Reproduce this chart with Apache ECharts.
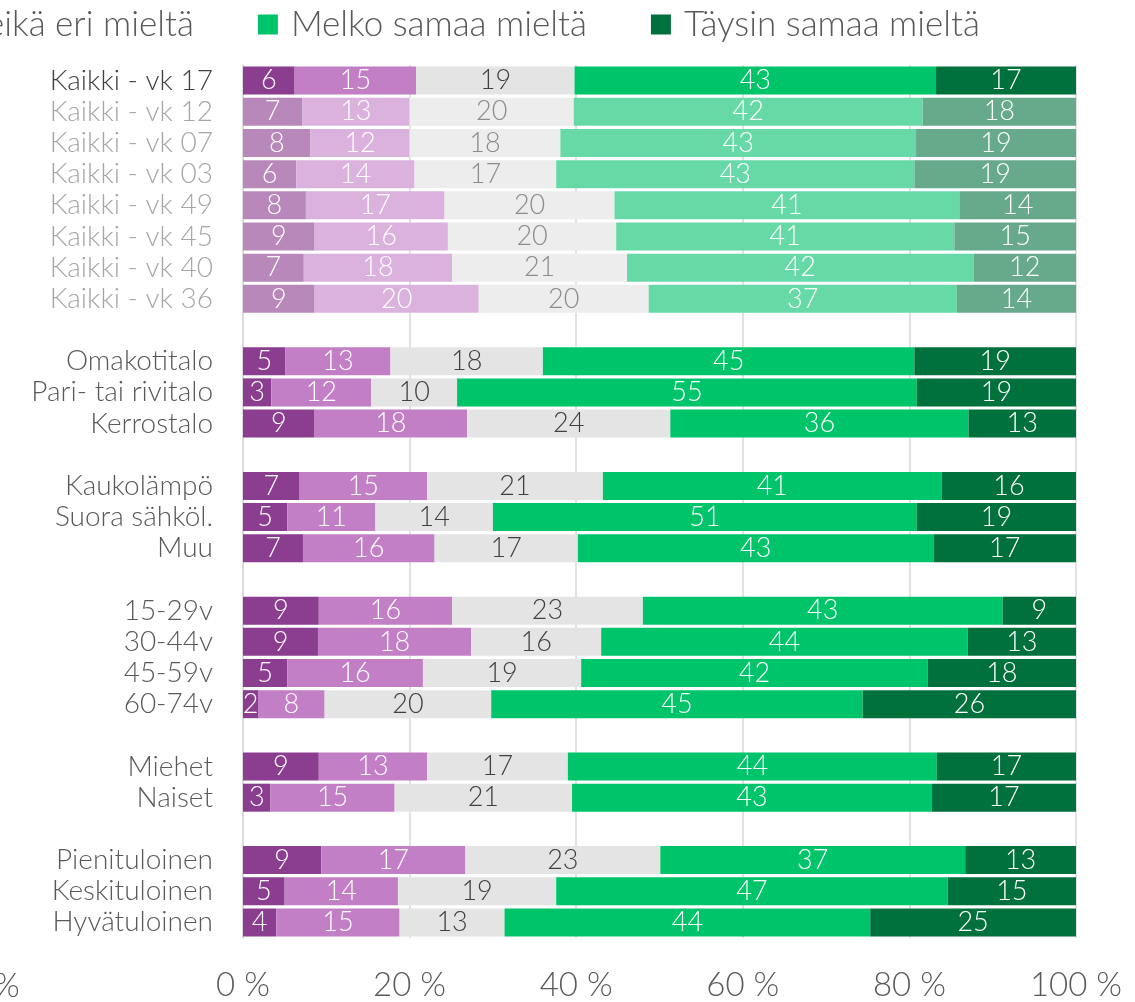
<!DOCTYPE html>
<html>
<head>
<meta charset="utf-8">
<title>Mielipiteet</title>
<script src="https://cdn.jsdelivr.net/npm/echarts@6/dist/echarts.min.js"></script>
<style>
  html, body { margin: 0; padding: 0; background: #fff; }
  #chart { width: 1135px; height: 1002px; }
</style>
</head>
<body>
<div id="chart"></div>
<script>
// rivit ylhäältä alas, tyhjät merkkijonot = väli ryhmien välissä
const categories = [
  'Kaikki - vk 17', 'Kaikki - vk 12', 'Kaikki - vk 07', 'Kaikki - vk 03',
  'Kaikki - vk 49', 'Kaikki - vk 45', 'Kaikki - vk 40', 'Kaikki - vk 36',
  '',
  'Omakotitalo', 'Pari- tai rivitalo', 'Kerrostalo',
  ' ',
  'Kaukolämpö', 'Suora sähköl.', 'Muu',
  '  ',
  '15-29v', '30-44v', '45-59v', '60-74v',
  '   ',
  'Miehet', 'Naiset',
  '    ',
  'Pienituloinen', 'Keskituloinen', 'Hyvätuloinen'
]

const seriesNames = [
  'Täysin eri mieltä', 'Melko eri mieltä', 'Ei samaa eikä eri mieltä',
  'Melko samaa mieltä', 'Täysin samaa mieltä'
]

// osuudet (%), luettu kuvasta
const taysinEri   = [6.2, 7.1, 8.1, 6.4, 7.55, 8.6, 7.3, 8.6, null, 5.1, 3.4, 8.6, null, 6.8, 5.3, 7.2, null, 9.1, 9.0, 5.3, 1.8, null, 9.1, 3.3, null, 9.4, 5.0, 4.0]
const melkoEri    = [14.6, 12.9, 11.9, 14.2, 16.65, 16.0, 17.8, 19.7, null, 12.6, 12.0, 18.3, null, 15.3, 10.6, 15.8, null, 16.0, 18.4, 16.3, 8.0, null, 13.0, 14.9, null, 17.3, 13.6, 14.8]
const eiSamaaEi   = [19.0, 19.7, 18.1, 17.0, 20.4, 20.2, 21.0, 20.4, null, 18.3, 10.3, 24.4, null, 21.1, 14.1, 17.2, null, 22.9, 15.6, 19.0, 20.0, null, 16.9, 21.3, null, 23.4, 19.0, 12.6]
const melkoSamaa  = [43.4, 41.9, 42.7, 43.0, 41.4, 40.6, 41.6, 37.0, null, 44.6, 55.2, 35.8, null, 40.7, 50.9, 42.7, null, 43.2, 44.0, 41.6, 44.6, null, 44.3, 43.2, null, 36.6, 47.0, 43.9]
const taysinSamaa = [16.8, 18.4, 19.2, 19.4, 14.0, 14.6, 12.3, 14.3, null, 19.4, 19.1, 12.9, null, 16.1, 19.1, 17.1, null, 8.8, 13.0, 17.8, 25.6, null, 16.7, 17.3, null, 13.3, 15.4, 24.7]

// aiemmat mittaukset (vk 12 ... vk 36) haalealla värillä
const fadedRows = [1, 2, 3, 4, 5, 6, 7]

const colors = ['#8B3E8F', '#C27FC6', '#E4E4E4', '#00C46A', '#00703C']
const fadedColors = ['#B888BA', '#DBB2DD', '#EDEDED', '#66D9A6', '#66A98B']
const fontFamily = 'Lato'

const chart = echarts.init(document.getElementById('chart'))

function buildSeries(values, i) {
  return {
    name: seriesNames[i],
    type: 'bar',
    stack: 'total',
    barWidth: 28,
    itemStyle: { color: colors[i] },
    label: {
      show: true,
      position: 'inside',
      fontFamily: fontFamily,
      fontWeight: 300,
      fontSize: 27,
      color: i === 2 ? '#404040' : '#fff',
      formatter: p => Math.round(p.value)
    },
    emphasis: { disabled: true },
    data: values.map((v, row) => {
      if (v === null) return '-'
      if (fadedRows.indexOf(row) < 0) return v
      return {
        value: v,
        itemStyle: { color: fadedColors[i] },
        label: { color: i === 2 ? '#8C8C8C' : '#fff' }
      }
    })
  }
}

// rivien nimiöt: uusin tummempi, vanhat haaleat
const yData = categories.map((name, idx) => {
  let color = '#595959'
  if (idx === 0) color = '#404040'
  if (fadedRows.indexOf(idx) >= 0) color = '#A6A6A6'
  return { value: name, textStyle: { color: color } }
})

const option = {
  animation: false,
  legend: {
    right: 150,
    width: 2000,
    top: 2,
    itemWidth: 20,
    itemHeight: 20,
    itemGap: 64,
    icon: 'rect',
    textStyle: { fontFamily: fontFamily, fontWeight: 300, fontSize: 35, color: '#595959', padding: [0, 0, 0, 8] },
    data: seriesNames
  },
  grid: { left: 243, right: 59, top: 65, bottom: 63 },
  xAxis: {
    type: 'value',
    min: 0,
    max: 100,
    interval: 20,
    axisLine: { show: false },
    axisTick: { show: false },
    splitLine: { lineStyle: { color: '#D9D9D9', width: 1.5 } },
    axisLabel: {
      formatter: '{value} %',
      margin: 31,
      fontFamily: fontFamily,
      fontWeight: 300,
      fontSize: 33,
      color: '#595959'
    }
  },
  yAxis: {
    type: 'category',
    inverse: true,
    data: yData,
    axisLine: { show: true, lineStyle: { color: '#D9D9D9', width: 1.5 } },
    axisTick: { show: false },
    axisLabel: {
      interval: 0,
      margin: 30,
      fontFamily: fontFamily,
      fontWeight: 300,
      fontSize: 28
    }
  },
  graphic: [
    {
      // vasemman reunan katkennut akselin nimiö
      type: 'text',
      left: -6,
      top: 970,
      style: { text: '%', fontFamily: fontFamily, fontWeight: 300, fontSize: 33, fill: '#595959' }
    }
  ],
  series: [taysinEri, melkoEri, eiSamaaEi, melkoSamaa, taysinSamaa].map(buildSeries)
}

chart.setOption(option)
</script>
</body>
</html>
